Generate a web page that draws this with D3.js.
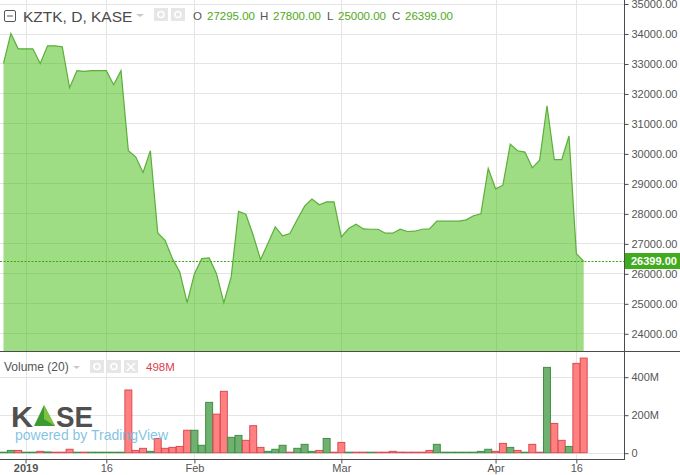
<!DOCTYPE html>
<html><head><meta charset="utf-8">
<script src="https://cdn.jsdelivr.net/npm/d3@7"></script>
<style>html,body{margin:0;padding:0;background:#fff}svg{display:block}text{font-family:"Liberation Sans",Arial,sans-serif}</style>
</head><body><svg id="c" width="680" height="475"></svg>
<script>
const closes=[33005,34000,33490,33490,33490,33000,33590,33590,33560,32190,32760,32740,32760,32760,32760,32290,32760,30087,29885,29365,30087,27350,27105,26490,26045,25020,25990,26490,26515,25990,25020,25880,28070,27970,27270,26460,26995,27550,27250,27330,27795,28240,28475,28285,28385,28385,27215,27495,27640,27480,27470,27470,27340,27340,27470,27395,27405,27470,27480,27740,27740,27740,27740,27785,27920,27985,29500,28820,28940,30310,30090,30045,29520,29775,31590,29790,29790,30580,26660,26399];
const volumes=[1,12,12,1,1,7,4,1,1,18,1,1,2,2,1,1,1,330,12,23,7,75,23,28,33,118,118,39,265,203,323,81,91,65,142,28,7,18,39,2,23,44,7,12,75,1,54,1,1,1,1,1,1,7,3,1,1,1,12,44,1,1,1,2,2,7,18,7,49,28,12,2,44,2,449,154,65,33,470,498];
const volumeUp=[1,1,0,1,1,0,1,0,0,0,1,0,1,1,1,1,1,0,0,0,1,0,0,0,0,0,1,1,1,0,0,1,1,0,0,0,1,1,1,0,1,1,1,0,1,0,0,1,0,0,1,0,0,0,0,0,0,0,0,1,1,1,1,1,1,1,1,0,0,1,0,1,0,0,1,0,0,1,0,0];
const priceTicks=[24000,25000,26000,27000,28000,29000,30000,31000,32000,33000,34000,35000];
const volumeTicks=[0,200,400];
const timeTickIndex=[3,14,26,46,67,78];
const timeTickLabel=["2019","16","Feb","Mar","Apr","16"];
const lastPrice=26399;
const ohlc=[["O","27295.00"],["H","27800.00"],["L","25000.00"],["C","26399.00"]];

const svg=d3.select("#c");
const axisX=624.5,W=680;
const x=d3.scaleLinear().domain([0,79]).range([3.5,583.7]);
const step=x(1)-x(0);
const yP=d3.scaleLinear().domain([24000,34000]).range([333.3,33.5]);
const yV=d3.scaleLinear().domain([0,400]).range([452.7,376.7]);
const grid="#e4e4e4",ax="#4c4c4c",txt="#555";

const g=svg.append("g");
g.selectAll(".vg").data(timeTickIndex).join("line").attr("x1",d=>Math.round(x(d))+.5).attr("x2",d=>Math.round(x(d))+.5).attr("y1",0).attr("y2",459).attr("stroke",grid);
g.selectAll(".hp").data(priceTicks).join("line").attr("x1",0).attr("x2",axisX).attr("y1",d=>Math.round(yP(d))+.5).attr("y2",d=>Math.round(yP(d))+.5).attr("stroke",grid);
g.selectAll(".hv").data(volumeTicks).join("line").attr("x1",0).attr("x2",axisX).attr("y1",d=>Math.round(yV(d))+.5).attr("y2",d=>Math.round(yV(d))+.5).attr("stroke",grid);

const idx=closes.map((_,i)=>i);
g.append("path").datum(idx).attr("d",d3.area().x(i=>x(i)).y0(351).y1(i=>yP(closes[i]))).attr("fill","rgb(72,190,20)").attr("fill-opacity",.53);
g.append("path").datum(idx).attr("d",d3.line().x(i=>x(i)).y(i=>yP(closes[i]))).attr("fill","none").attr("stroke","#5bae3a").attr("stroke-width",1.2);

g.append("line").attr("x1",0).attr("x2",axisX).attr("y1",Math.round(yP(lastPrice))+.5).attr("y2",Math.round(yP(lastPrice))+.5).attr("stroke","#3fa515").attr("stroke-dasharray","2 1.5");

g.selectAll(".vb").data(idx).join("rect")
 .attr("x",i=>x(i)-step/2+.2).attr("width",step-.4)
 .attr("y",i=>Math.min(yV(volumes[i]),452.2)).attr("height",i=>Math.max(452.7-yV(volumes[i]),.5))
 .attr("fill",i=>volumeUp[i]?"#70b070":"#ff8080").attr("stroke",i=>volumeUp[i]?"#3f8f45":"#dc4a52").attr("stroke-width",1);

g.append("rect").attr("x",0).attr("y",351).attr("width",W).attr("height",1).attr("fill",ax);
g.append("rect").attr("x",0).attr("y",459).attr("width",axisX).attr("height",1).attr("fill",ax);
g.append("rect").attr("x",624).attr("y",0).attr("width",1).attr("height",460).attr("fill",ax);

function styleAxis(s){s.select(".domain").remove();s.selectAll("line").attr("stroke",ax);s.selectAll("text").attr("fill",txt).attr("font-size",11);}
svg.append("g").attr("transform",`translate(${axisX},0.5)`).call(d3.axisRight(yP).tickValues(priceTicks).tickFormat(d3.format(".2f")).tickSize(4).tickPadding(3)).call(styleAxis);
svg.append("g").attr("transform",`translate(${axisX},0.5)`).call(d3.axisRight(yV).tickValues(volumeTicks).tickFormat(d=>d?d+"M":"0").tickSize(4).tickPadding(3)).call(styleAxis);
const xa=svg.append("g").attr("transform","translate(0,459.5)").call(d3.axisBottom(x).tickValues(timeTickIndex).tickFormat((d,i)=>timeTickLabel[i]).tickSize(4).tickPadding(1)).call(styleAxis);
xa.selectAll("text").filter((d,i)=>i==0).attr("font-weight","bold");

svg.append("rect").attr("x",625).attr("y",253).attr("width",55).attr("height",16).attr("fill","#41ab1e");
svg.append("text").attr("x",631).attr("y",265).attr("fill","#fff").attr("font-size",11).attr("font-weight","bold").text(d3.format(".2f")(lastPrice));

const h=svg.append("g");
h.append("rect").attr("x",4.5).attr("y",10.5).attr("width",11).attr("height",11).attr("rx",1.5).attr("fill","#fff").attr("stroke","#555");
h.append("line").attr("x1",7).attr("x2",13).attr("y1",16).attr("y2",16).attr("stroke","#555");
h.append("text").attr("x",23).attr("y",22).attr("font-size",15.5).attr("fill","#4a4a4a").text("KZTK, D, KASE");
h.append("path").attr("d","M136 14h8l-4 3z").attr("fill","#c8c8c8");
function icon(px,py,w){h.append("rect").attr("x",px).attr("y",py).attr("width",w).attr("height",13).attr("fill","#e6e6e6");h.append("circle").attr("cx",px+w/2).attr("cy",py+6.5).attr("r",3).attr("fill","none").attr("stroke","#fff").attr("stroke-width",1.6);}
icon(154,8,14);icon(171,8,14);
ohlc.forEach((o,i)=>{
 const sx=[193,260,327,392][i], vx=[207,273,338,405][i];
 h.append("text").attr("x",sx).attr("y",20).attr("font-size",11.5).attr("fill","#555").text(o[0]);
 h.append("text").attr("x",vx).attr("y",20).attr("font-size",11.5).attr("fill","#50a820").text(o[1]);
});
h.append("text").attr("x",4).attr("y",371).attr("font-size",12).attr("fill","#555").text("Volume (20)");
h.append("path").attr("d","M73 366h7l-3.5 3z").attr("fill","#c8c8c8");
icon(90,360,14);icon(107,360,14);
h.append("rect").attr("x",124).attr("y",360).attr("width",14).attr("height",13).attr("fill","#e6e6e6");
h.append("path").attr("d","M127 363l8 8M135 363l-8 8").attr("stroke","#fff").attr("stroke-width",1.6);
h.append("text").attr("x",146).attr("y",371).attr("font-size",11.5).attr("fill","#e0404c").text("498M");

const l=svg.append("g");
l.append("text").attr("x",11).attr("y",427).attr("font-size",30).attr("font-weight","bold").attr("fill","#505050").attr("textLength",22).attr("lengthAdjust","spacingAndGlyphs").text("K");
l.append("path").attr("d","M34 426L44 405L55 426z").attr("fill","#3c9a32");
l.append("path").attr("d","M44 405L55 426L44 419z").attr("fill","#7fc241");
l.append("text").attr("x",56).attr("y",427).attr("font-size",30).attr("font-weight","bold").attr("fill","#505050").attr("textLength",37).attr("lengthAdjust","spacingAndGlyphs").text("SE");
l.append("text").attr("x",15).attr("y",440).attr("font-size",15).attr("fill","#6db8e0").attr("fill-opacity",.85).attr("textLength",153).attr("lengthAdjust","spacingAndGlyphs").text("powered by TradingView");
</script></body></html>
